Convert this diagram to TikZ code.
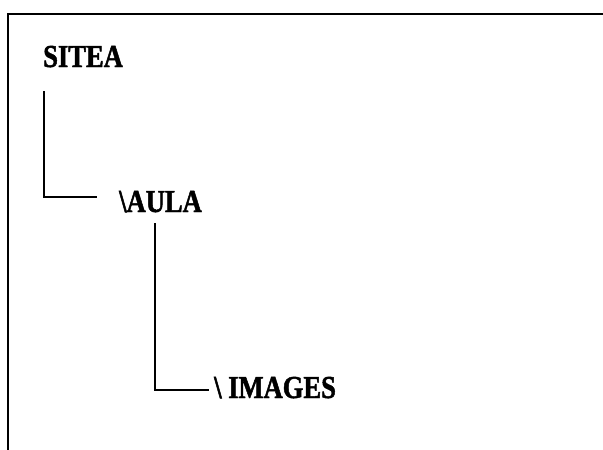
\documentclass[tikz,border=0pt]{standalone}
\usepackage{fontspec}
\setmainfont{Liberation Serif}
\newfontfamily\dirfont{Liberation Serif Bold}[FakeStretch=0.83,FakeBold=1.5]
\usetikzlibrary{calc}
\begin{document}
\begin{tikzpicture}[x=1pt,y=-1pt,
  dirlabel/.style={anchor=base west,inner sep=0pt,font=\dirfont\fontsize{32}{32}\selectfont},
  branch/.style={draw=black,line width=2.5pt},
  frameline/.style={draw=black,line width=2.5pt}]
\useasboundingbox (0,0) rectangle (603,450);
% frame
\coordinate (tl) at (8,14);
\coordinate (tr) at (603,14);
\coordinate (bl) at (8,450);
\draw[frameline] (tr) -- (tl) -- (bl);
% directory labels
\node[dirlabel] (sitea) at (43,67) {SITEA};
\node[dirlabel] (aula) at (119,212) {\textbackslash AULA};
\node[dirlabel] (images) at (214,398) {\textbackslash\ IMAGES};
% connectors
\draw[branch] ($(sitea.base west)+(1,24)$) |- ($(aula.base west)+(-22,-15)$);
\draw[branch] ($(aula.base west)+(36,11)$) |- ($(images.base west)+(-5,-8)$);
\end{tikzpicture}
\end{document}
